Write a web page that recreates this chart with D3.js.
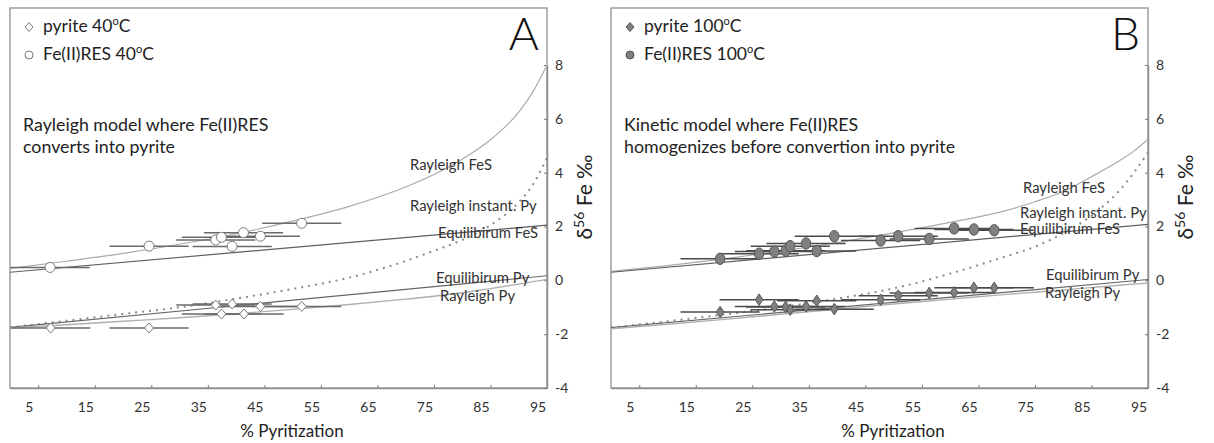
<!DOCTYPE html>
<html><head><meta charset="utf-8">
<script src="https://cdn.jsdelivr.net/npm/d3@7"></script>
<style>
body{margin:0;background:#fff;}
svg{display:block;font-family:Lato,"Open Sans",sans-serif;}
</style>
</head><body><svg id="chart" width="1214" height="443"></svg>
<script>
// ---------- data ----------
const xTicks = [5, 15, 25, 35, 45, 55, 65, 75, 85, 95];
const yTicks = [-4, -2, 0, 2, 4, 6, 8];
const curveGrid = [0, 10, 20, 30, 40, 50, 60, 70, 75, 80, 85, 90, 92.5, 95];
const lineEnds = [0, 95];

// Panel A (40 °C)
const resA_x = [7.1, 24.6, 36.4, 37.4, 41.3, 39.3, 44.3, 51.6];
const resA_y = [0.48, 1.27, 1.5, 1.6, 1.77, 1.26, 1.64, 2.12];
const pyA_x = [7.2, 24.6, 36.4, 39.3, 37.4, 41.4, 44.3, 51.6];
const pyA_y = [-1.77, -1.77, -0.92, -0.88, -1.25, -1.25, -0.97, -0.97];
const errA = [7, 7, 7, 7, 7, 7, 7, 7];
const rayFesA = [0.44, 0.71, 1.0, 1.34, 1.73, 2.2, 2.75, 3.47, 3.93, 4.5, 5.22, 6.25, 7.0, 8.0];
const instPyA = [-1.75, -1.5, -1.25, -1.0, -0.68, -0.32, 0.1, 0.72, 1.1, 1.5, 2.05, 2.9, 3.55, 4.55];
const eqFesA = [0.3, 2.05];
const eqPyA = [-1.75, 0.17];
const rayPyA = [-1.77, -1.65, -1.52, -1.39, -1.24, -1.08, -0.9, -0.7, -0.59, -0.46, -0.31, -0.14, -0.05, 0.03];

// Panel B (100 °C)
const resB_x = [19.3, 26.2, 28.9, 30.9, 31.7, 34.5, 36.4, 39.5, 47.7, 50.8, 56.3, 60.7, 64.2, 67.8];
const resB_y = [0.8, 0.99, 1.07, 1.1, 1.27, 1.37, 1.09, 1.64, 1.48, 1.64, 1.54, 1.93, 1.89, 1.86];
const pyB_x = [19.3, 26.2, 28.9, 30.9, 31.7, 34.5, 36.4, 39.5, 47.7, 50.8, 56.3, 60.7, 64.2, 67.8];
const pyB_y = [-1.18, -0.72, -0.97, -0.99, -1.09, -0.97, -0.76, -1.07, -0.72, -0.57, -0.47, -0.45, -0.28, -0.28];
const errB = [7, 7, 7, 7, 7, 7, 7, 7, 7, 7, 7, 7, 7, 7];
const rayFesB = [0.33, 0.55, 0.8, 1.08, 1.4, 1.76, 2.15, 2.6, 2.92, 3.3, 3.85, 4.45, 4.8, 5.24];
const instPyB = [-1.76, -1.52, -1.27, -1.0, -0.68, -0.3, 0.25, 0.9, 1.25, 1.75, 2.4, 3.35, 4.0, 4.75];
const eqFesB = [0.3, 2.08];
const eqPyB = [-1.76, 0.03];
const rayPyB = [-1.8, -1.63, -1.45, -1.26, -1.07, -0.88, -0.7, -0.52, -0.44, -0.36, -0.27, -0.18, -0.14, -0.1];

const curveNames = ["Rayleigh FeS", "Rayleigh instant. Py", "Equilibirum FeS", "Equilibirum Py", "Rayleigh Py"];

// ---------- drawing ----------
const svg = d3.select("#chart");
const TOP = 8, BOTTOM = 388;

function pts(xs, ys) { return xs.map((v, i) => [v, ys[i]]); }

function drawPanel(p) {
  const g = svg.append("g");
  const x = d3.scaleLinear().domain([0, 95]).range([p.left, p.right]);
  const y = d3.scaleLinear().domain([-4, 8]).range([BOTTOM, 65]);

  // frame
  g.append("rect").attr("x", p.left).attr("y", TOP)
    .attr("width", p.right - p.left).attr("height", BOTTOM - TOP)
    .attr("fill", "none").attr("stroke", "#8f8f8f").attr("stroke-width", 1.3);

  // x axis (inward ticks)
  const xa = g.append("g").attr("transform", `translate(0,${BOTTOM})`)
    .call(d3.axisBottom(x).tickValues(xTicks).tickSizeInner(-3).tickSizeOuter(0).tickFormat(""));
  xa.select(".domain").attr("stroke", "#8f8f8f").attr("stroke-width", 1.3);
  xa.selectAll(".tick line").attr("stroke", "#777");
  g.selectAll(".xlab").data(xTicks).join("text")
    .attr("x", d => x(d) - 9).attr("y", 412)
    .attr("text-anchor", "middle").attr("font-size", 14).attr("fill", "#333")
    .text(d => d);
  g.append("text").attr("x", p.left + 282).attr("y", 437)
    .attr("text-anchor", "middle").attr("font-size", 17).attr("fill", "#222")
    .text("% Pyritization");

  // right y axis
  const ya = g.append("g").attr("transform", `translate(${p.right},0)`)
    .call(d3.axisRight(y).tickValues(yTicks).tickSizeInner(-3).tickSizeOuter(0)
      .tickPadding(8).tickFormat(d => String(d)));
  ya.select(".domain").attr("stroke", "#8f8f8f").attr("stroke-width", 1.5);
  ya.selectAll(".tick line").attr("stroke", "#777");
  ya.selectAll(".tick text").attr("font-size", 14).attr("fill", "#333")
    .attr("font-family", "Lato, 'Open Sans', sans-serif");

  const yl = g.append("text")
    .attr("transform", `translate(${p.right + 45},197) rotate(-90)`)
    .attr("text-anchor", "middle").attr("font-size", 21).attr("fill", "#222");
  yl.append("tspan").text("δ");
  yl.append("tspan").attr("dy", -8).attr("font-size", 14).text("56");
  yl.append("tspan").attr("dy", 8).text(" Fe ‰");

  // panel letter
  g.append("text").attr("x", p.right - 8).attr("y", 50).attr("text-anchor", "end")
    .attr("font-size", 46).attr("font-weight", 300).attr("fill", "#111").text(p.letter);

  // curves
  const line = d3.line().x(d => x(d[0])).y(d => y(d[1])).curve(d3.curveMonotoneX);
  const curves = [
    { d: pts(curveGrid, p.rayFes), stroke: "#ababab", w: 1.2, dash: null },
    { d: pts(curveGrid, p.instPy), stroke: "#8a8a8a", w: 2, dash: "2,5" },
    { d: pts(lineEnds, p.eqFes), stroke: "#5e5e5e", w: 1.2, dash: null },
    { d: pts(lineEnds, p.eqPy), stroke: "#666", w: 1.2, dash: null },
    { d: pts(curveGrid, p.rayPy), stroke: "#b0b0b0", w: 1.4, dash: null }
  ];
  curves.forEach(c => {
    g.append("path").attr("d", line(c.d)).attr("fill", "none")
      .attr("stroke", c.stroke).attr("stroke-width", c.w)
      .attr("stroke-dasharray", c.dash);
  });

  // curve labels
  curveNames.forEach((t, i) => {
    g.append("text").attr("x", p.left + p.labels[i][0]).attr("y", p.labels[i][1])
      .attr("font-size", 14.8).attr("fill", "#333").text(t);
  });

  // error bars
  const drawErr = (xs, ys, err, col) => {
    g.append("g").selectAll("line").data(xs).join("line")
      .attr("x1", (d, i) => x(d - err[i])).attr("x2", (d, i) => x(d + err[i]))
      .attr("y1", (d, i) => y(ys[i])).attr("y2", (d, i) => y(ys[i]))
      .attr("stroke", col).attr("stroke-width", 1.5);
  };
  drawErr(p.resX, p.resY, p.err, p.errCol);
  drawErr(p.pyX, p.pyY, p.err, p.errCol);

  // markers
  g.append("g").selectAll("path").data(p.pyX).join("path")
    .attr("d", (d, i) => {
      const cx = x(d), cy = y(p.pyY[i]), w = p.dW, h = p.dH;
      return `M${cx},${cy - h}L${cx + w},${cy}L${cx},${cy + h}L${cx - w},${cy}Z`;
    })
    .attr("fill", p.fill).attr("stroke", p.mStroke).attr("stroke-width", 1);
  g.append("g").selectAll("ellipse").data(p.resX).join("ellipse")
    .attr("cx", d => x(d)).attr("cy", (d, i) => y(p.resY[i]))
    .attr("rx", p.rx).attr("ry", p.ry)
    .attr("fill", p.fill).attr("stroke", p.mStroke).attr("stroke-width", 1);

  // legend
  const lx = p.left + 19;
  g.append("path")
    .attr("d", `M${lx},${27 - 4.5}L${lx + 4},27L${lx},${27 + 4.5}L${lx - 4},27Z`)
    .attr("fill", p.fill).attr("stroke", p.mStroke);
  g.append("ellipse").attr("cx", lx).attr("cy", 55).attr("rx", 4).attr("ry", 4)
    .attr("fill", p.fill).attr("stroke", p.mStroke);
  p.legend.forEach((t, i) => {
    const tx = g.append("text").attr("x", lx + 14).attr("y", 32 + i * 28)
      .attr("font-size", 17.5).attr("fill", "#222");
    tx.append("tspan").text(t[0]);
    tx.append("tspan").attr("dy", -7).attr("font-size", 11).text("o");
    tx.append("tspan").attr("dy", 7).text("C");
  });

  // description
  p.desc.forEach((t, i) => {
    g.append("text").attr("x", p.left + 13).attr("y", 131 + i * 22)
      .attr("font-size", 17.8).attr("fill", "#222").text(t);
  });
}

drawPanel({
  left: 10, right: 547, letter: "A",
  resX: resA_x, resY: resA_y, pyX: pyA_x, pyY: pyA_y, err: errA,
  rayFes: rayFesA, instPy: instPyA, eqFes: eqFesA, eqPy: eqPyA, rayPy: rayPyA,
  fill: "#ffffff", mStroke: "#7a7a7a", errCol: "#6a6a6a",
  rx: 5, ry: 5, dW: 4.5, dH: 5,
  legend: [["pyrite 40"], ["Fe(II)RES 40"]],
  desc: ["Rayleigh model where Fe(II)RES", "converts into pyrite"],
  labels: [[400, 170], [400, 211], [428, 238], [426, 283], [430, 301]]
});

drawPanel({
  left: 611, right: 1148, letter: "B",
  resX: resB_x, resY: resB_y, pyX: pyB_x, pyY: pyB_y, err: errB,
  rayFes: rayFesB, instPy: instPyB, eqFes: eqFesB, eqPy: eqPyB, rayPy: rayPyB,
  fill: "#808080", mStroke: "#555", errCol: "#4a4a4a",
  rx: 4.7, ry: 5.7, dW: 3.8, dH: 5.8,
  legend: [["pyrite 100"], ["Fe(II)RES 100"]],
  desc: ["Kinetic model where Fe(II)RES", "homogenizes before convertion into pyrite"],
  labels: [[412, 193], [409, 218], [409, 234], [435, 280], [434, 298]]
});
</script>
</body></html>
